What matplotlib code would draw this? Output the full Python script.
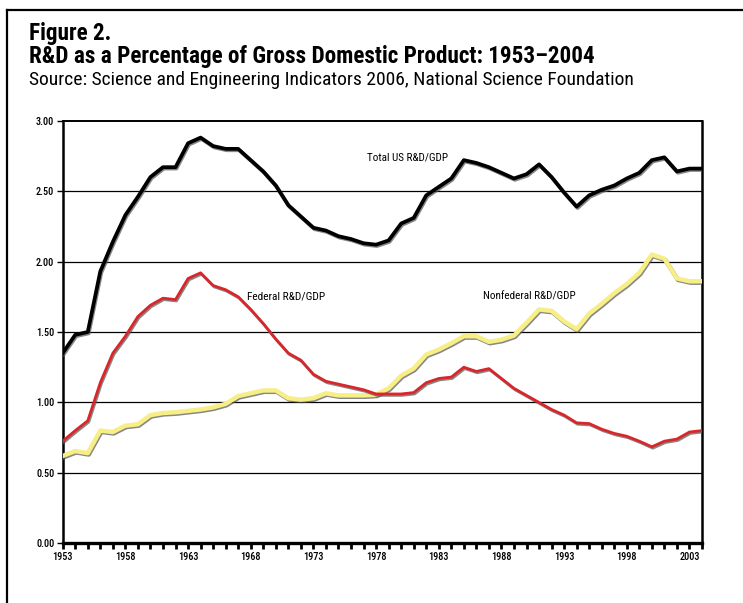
import matplotlib
matplotlib.use("Agg")
import matplotlib.pyplot as plt
import matplotlib.patheffects as pe
from matplotlib.lines import Line2D
from matplotlib.ticker import MultipleLocator, FixedLocator

plt.rcParams['font.family'] = ['Roboto Condensed', 'DejaVu Sans']
plt.rcParams['font.stretch'] = 'condensed'

years = list(range(1953, 2005))

# Total US R&D / GDP
total = [1.35, 1.48, 1.50, 1.93, 2.14, 2.33, 2.46, 2.60, 2.67, 2.67,
         2.84, 2.88, 2.82, 2.80, 2.80, 2.72, 2.64, 2.54, 2.40, 2.32,
         2.24, 2.22, 2.18, 2.16, 2.13, 2.12, 2.15, 2.27, 2.31, 2.47,
         2.53, 2.59, 2.72, 2.70, 2.67, 2.63, 2.59, 2.62, 2.69, 2.60,
         2.49, 2.39, 2.47, 2.51, 2.54, 2.59, 2.63, 2.72, 2.74, 2.64,
         2.66, 2.66]

# Federal R&D / GDP
federal = [0.725, 0.80, 0.87, 1.14, 1.35, 1.47, 1.61, 1.69, 1.74, 1.73,
           1.88, 1.92, 1.83, 1.80, 1.75, 1.66, 1.56, 1.45, 1.35, 1.30,
           1.20, 1.15, 1.13, 1.11, 1.09, 1.06, 1.06, 1.06, 1.07, 1.14,
           1.17, 1.18, 1.25, 1.22, 1.24, 1.17, 1.10, 1.05, 1.00, 0.95,
           0.91, 0.855, 0.85, 0.81, 0.78, 0.76, 0.725, 0.685, 0.725, 0.74,
           0.79, 0.80]

# Nonfederal R&D / GDP
nonfederal = [0.62, 0.655, 0.64, 0.80, 0.79, 0.835, 0.845, 0.91, 0.925, 0.93,
              0.94, 0.95, 0.965, 0.99, 1.045, 1.065, 1.085, 1.085, 1.03, 1.02,
              1.03, 1.065, 1.05, 1.05, 1.05, 1.055, 1.10, 1.19, 1.24, 1.34,
              1.375, 1.42, 1.47, 1.47, 1.43, 1.445, 1.475, 1.565, 1.66, 1.65,
              1.575, 1.52, 1.63, 1.70, 1.775, 1.84, 1.92, 2.05, 2.02, 1.88,
              1.86, 1.86]

year_labels = list(range(1953, 2004, 5))
y_ticks = [0.0, 0.5, 1.0, 1.5, 2.0, 2.5, 3.0]

W, H = 743, 603
fig = plt.figure(figsize=(W / 100, H / 100), dpi=100)
renderer = fig.canvas.get_renderer()


def fit_width(t, target_px):
    # rescale a text so its rendered width matches the reference
    w = t.get_window_extent(renderer).width
    t.set_fontsize(t.get_fontsize() * target_px / w)


# border: left and top edges only (the right side is open in the original)
fig.add_artist(Line2D([7 / W, 7 / W], [0, 1 - 10 / H], transform=fig.transFigure,
                      color='black', linewidth=1.6))
fig.add_artist(Line2D([7 / W, 1], [1 - 10 / H, 1 - 10 / H], transform=fig.transFigure,
                      color='black', linewidth=1.6))

t1 = fig.text(29 / W, 1 - 40 / H, "Figure 2.", fontsize=16, fontweight='bold', va='baseline')
t2 = fig.text(29 / W, 1 - 63 / H, "R&D as a Percentage of Gross Domestic Product: 1953\u20132004",
              fontsize=16, fontweight='bold', va='baseline')
t3 = fig.text(29 / W, 1 - 85 / H,
              "Source: Science and Engineering Indicators 2006, National Science Foundation",
              fontsize=15, va='baseline')
fit_width(t2, 566)
t1.set_fontsize(t2.get_fontsize())
fit_width(t3, 603)

ax = fig.add_axes([62.7 / W, 1 - 543.3 / H, (702 - 62.7) / W, (543.3 - 120.7) / H])

for y in y_ticks[1:-1]:
    ax.axhline(y, color='black', linewidth=0.9, zorder=1)

shadow = [pe.SimpleLineShadow(offset=(0.7, -1.0), shadow_color='#555555', alpha=0.7), pe.Normal()]

ax.plot(years, nonfederal, color='#f7ee85', linewidth=3.2, path_effects=shadow, zorder=3)
ax.plot(years, federal, color='#d9262b', linewidth=2.0, path_effects=shadow, zorder=4)
ax.plot(years, total, color='black', linewidth=2.7, path_effects=shadow, zorder=5)

l1 = ax.text(1977.3, 2.74, "Total US R&D/GDP", fontsize=8.5, va='center')
l2 = ax.text(1967.7, 1.75, "Federal R&D/GDP", fontsize=8.5, va='center')
l3 = ax.text(1986.5, 1.755, "Nonfederal R&D/GDP", fontsize=8.5, va='center')
fit_width(l1, 81)
fit_width(l2, 78)
fit_width(l3, 92)

ax.set_xlim(1953, 2004)
ax.set_ylim(0, 3.0)
ax.xaxis.set_major_locator(FixedLocator(year_labels))
ax.xaxis.set_minor_locator(MultipleLocator(1))
ax.set_xticklabels([str(y) for y in year_labels])
ax.set_yticks(y_ticks)
ax.set_yticklabels([f"{v:.2f}" for v in y_ticks])

ax.tick_params(axis='x', which='both', direction='out', length=4, width=2.0,
               labelsize=7.4, pad=2)
ax.tick_params(axis='y', direction='out', length=4, width=1, labelsize=7.4, pad=2)
for lab in ax.get_xticklabels() + ax.get_yticklabels():
    lab.set_fontweight('medium')

ax.spines['bottom'].set_linewidth(2.4)
ax.spines['left'].set_linewidth(1.8)
ax.spines['right'].set_linewidth(1.8)
ax.spines['top'].set_linewidth(1.4)

fig.savefig("out.png", dpi=100)
